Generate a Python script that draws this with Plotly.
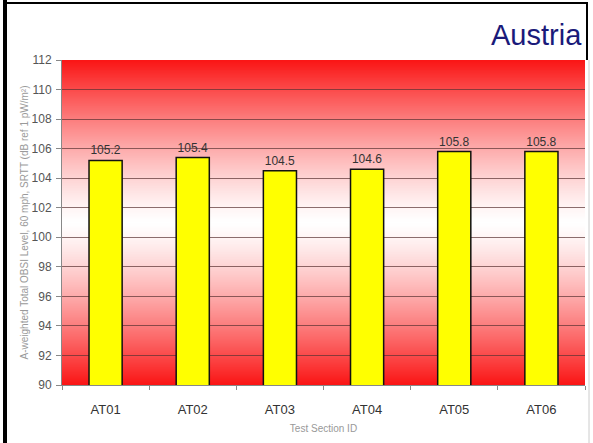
import base64
import struct
import zlib

import plotly.graph_objects as go

# ---- data ----
sections = ["AT01", "AT02", "AT03", "AT04", "AT05", "AT06"]
obsi_levels = [105.2, 105.4, 104.5, 104.6, 105.8, 105.8]
y_title = "A-weighted Total OBSI Level, 60 mph, SRTT (dB ref 1 pW/m²)"
x_title = "Test Section ID"
chart_title = "Austria"

# ---- layout geometry (pixels) ----
W, H = 593, 443
L, R, T, B = 62, 8, 60, 58
PW, PH = W - L - R, H - T - B


def px(x):
    return (x - L) / PW


def py(y):
    return (H - B - y) / PH


def gradient_png(h=256, edge=(250, 22, 22), gamma=1.3):
    raw = b""
    for i in range(h):
        t = i / (h - 1)
        d = (abs(t - 0.5) * 2) ** gamma
        c = bytes(int(round(255 * (1 - d) + e * d)) for e in edge)
        raw += b"\x00" + c + c

    def chunk(tag, data):
        return (struct.pack(">I", len(data)) + tag + data
                + struct.pack(">I", zlib.crc32(tag + data) & 0xffffffff))
    png = b"\x89PNG\r\n\x1a\n"
    png += chunk(b"IHDR", struct.pack(">IIBBBBB", 2, h, 8, 2, 0, 0, 0))
    png += chunk(b"IDAT", zlib.compress(raw))
    png += chunk(b"IEND", b"")
    return "data:image/png;base64," + base64.b64encode(png).decode()


fig = go.Figure()
fig.add_trace(go.Bar(
    x=sections, y=obsi_levels,
    marker=dict(color="#FFFF00", line=dict(color="#111111", width=1.5)),
    texttemplate="%{y:.1f}", textposition="outside",
    textfont=dict(size=12, color="#333333", family="Arial, Liberation Sans"),
    cliponaxis=False, showlegend=False,
))

font = dict(family="Arial, Liberation Sans", size=11, color="#444444")

fig.update_layout(
    width=W, height=H,
    margin=dict(l=L, r=R, t=T, b=B),
    paper_bgcolor="white",
    plot_bgcolor="rgba(0,0,0,0)",
    font=font,
    bargap=0.62,
    images=[dict(source=gradient_png(), xref="x domain", yref="y domain",
                 x=0, y=1, sizex=1, sizey=1, sizing="stretch",
                 xanchor="left", yanchor="top", layer="below")],
    xaxis=dict(
        type="category", tickson="boundaries", ticks="outside", ticklen=4,
        tickcolor="#888888", showline=True, linecolor="#888888",
        showgrid=False, tickfont=dict(size=13, color="#333333"),
        ticklabelstandoff=12,
        title=dict(text=x_title, font=dict(size=10, color="#999999"), standoff=9),
    ),
    yaxis=dict(
        range=[90, 112], dtick=2, ticks="outside", ticklen=5,
        tickcolor="#888888", showline=True, linecolor="#888888",
        showgrid=True, gridcolor="rgba(90,50,50,0.7)", gridwidth=1,
        tickfont=dict(size=12, color="#555555"),
        ticklabelstandoff=2,
        title=dict(text=y_title, font=dict(size=10, color="#9a9a9a"), standoff=1),
    ),
    annotations=[dict(
        text=chart_title, xref="paper", yref="paper",
        x=px(584), y=py(35), xanchor="right", yanchor="middle",
        showarrow=False,
        font=dict(family="Arial, Liberation Sans", size=29, color="#1a1a7a"),
    )],
    shapes=[
        dict(type="line", xref="paper", yref="paper",
             x0=px(5), x1=px(5), y0=py(0), y1=py(H),
             line=dict(color="black", width=4)),
        dict(type="line", xref="paper", yref="paper",
             x0=px(3), x1=px(588), y0=py(3), y1=py(3),
             line=dict(color="black", width=2)),
        dict(type="line", xref="paper", yref="paper",
             x0=px(587), x1=px(587), y0=py(2), y1=py(60),
             line=dict(color="black", width=2)),
        dict(type="line", xref="paper", yref="paper",
             x0=px(589), x1=px(589), y0=py(60), y1=py(H),
             line=dict(color="#cccccc", width=1)),
    ],
)

fig.write_html(
    "out.html",
    config={"displayModeBar": False},
    post_script="document.body.style.margin='0';document.body.style.overflow='hidden';",
)
